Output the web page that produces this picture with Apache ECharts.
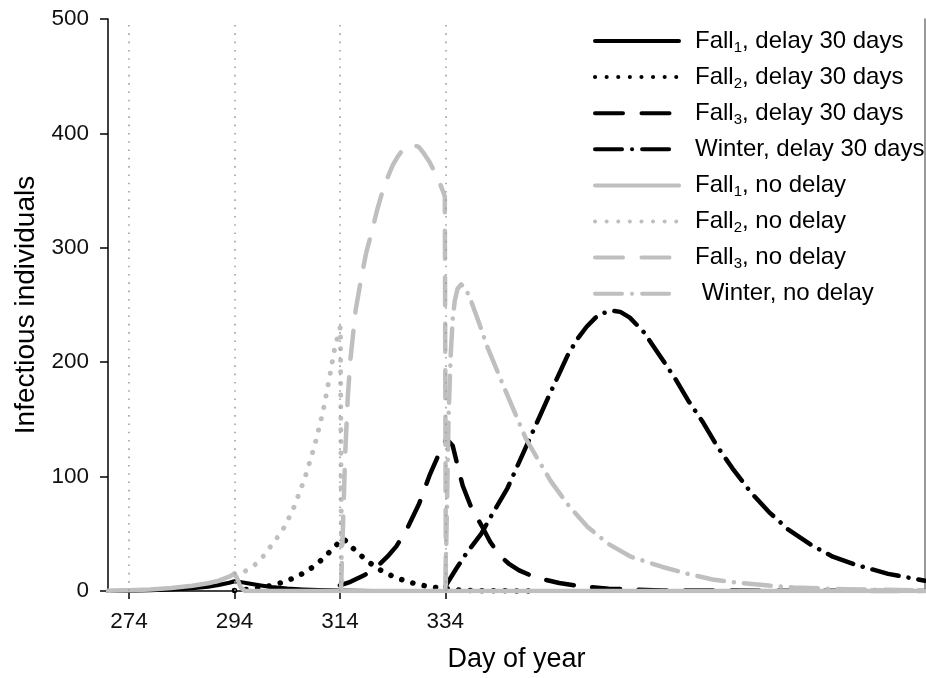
<!DOCTYPE html>
<html>
<head>
<meta charset="utf-8">
<script src="https://cdn.jsdelivr.net/npm/echarts@6/dist/echarts.min.js"></script>
<style>
  html, body { margin: 0; padding: 0; background: #fff; }
  #chart { width: 926px; height: 678px; }
</style>
</head>
<body>
<div id="chart"></div>
<script>
// day of year -> infectious individuals
const gridDays = [274, 294, 314, 334];

const fall1Delay = [[270, 0.1], [274, 0.3], [278, 0.7], [282, 1.3], [286, 2.4], [289, 3.8], [291, 5.2], [293, 7.2], [294, 8.5], [295, 8], [297, 6.3], [299, 4.8], [301, 3.5], [304, 2.2], [307, 1.4], [310, 0.8], [314, 0.4], [320, 0.1], [330, 0], [425, 0]];
const fall2Delay = [[294, 0.5], [296, 1.2], [298, 2.2], [300, 3.8], [302, 6], [304, 9], [306, 13], [308, 18], [310, 25], [312, 34], [313.5, 41], [314.6, 46], [315.5, 42], [317, 35], [319, 27], [321, 20], [323, 15], [325, 11], [327, 8], [329, 5.5], [331, 3.8], [333, 2.6], [334, 2.2], [336, 1], [340, 0.3], [350, 0]];
const fall3Delay = [[314, 5], [316, 8], [318.7, 14], [321, 21], [323, 30], [324.7, 39], [326.8, 55], [329, 76], [331, 101], [333, 122], [334.2, 133], [335.4, 127], [336.3, 110], [337.3, 92], [339, 72], [340.9, 57], [342.5, 43], [344.3, 31], [346, 24], [348, 18], [351, 12], [355.6, 7], [360, 4], [365, 2], [375, 0.5], [425, 0]];
const winterDelay = [[334, 4], [336, 19], [338, 33], [340.8, 50], [343, 68], [345.8, 90], [349.6, 129], [353.4, 168], [357.2, 206], [359, 220], [360.8, 231], [362.5, 239], [364, 243], [365.7, 245], [367.2, 244], [369, 239], [371.7, 226], [374.5, 207], [377.7, 185], [380, 167], [382.8, 148], [385.5, 127], [388.5, 107], [392, 86], [395.4, 69], [399, 54], [403.5, 40], [407.5, 30], [411.8, 23], [418, 15], [425, 9]];

const fall1NoDelay = [[270, 0.2], [274, 0.6], [278, 1.3], [282, 2.6], [286, 4.6], [289, 6.8], [291, 9], [293, 12.5], [294, 15], [294.4, 12], [295.2, 3], [296, 0], [425, 0]];
const fall2NoDelay = [[294, 15], [295.6, 16], [297.9, 23], [299.8, 32], [301.3, 42], [303, 52], [305, 70], [307.3, 98], [309.2, 127], [310.8, 157], [312, 186], [313, 212], [313.8, 226], [314.1, 231], [314.3, 0]];
const fall3NoDelay = [[314.2, 0], [314.6, 60], [315, 120], [315.5, 170], [316, 203], [317, 246], [318.1, 275], [319, 296], [320, 313], [321, 332], [322, 348], [323, 361], [324, 372], [325, 380], [326, 386], [327, 389], [328, 390], [329, 388], [330, 382], [331, 375], [332, 366], [333, 356], [333.9, 345], [334.1, 0]];
const winterNoDelay = [[334, 0], [334.3, 70], [334.6, 150], [335, 205], [335.4, 238], [335.8, 254], [336.3, 264], [337, 268], [337.8, 265], [339, 252], [340.5, 233], [342, 213], [345.5, 174], [349.3, 133], [354, 96], [357.5, 74], [361, 56], [365, 41], [369.2, 30], [375.2, 21], [380, 15], [384.7, 10], [390, 7], [394.8, 5], [400, 3], [410, 1.5], [425, 0.5]];

const seriesNames = [
  'Fall1, delay 30 days', 'Fall2, delay 30 days', 'Fall3, delay 30 days', 'Winter, delay 30 days',
  'Fall1, no delay', 'Fall2, no delay', 'Fall3, no delay', ' Winter, no delay'
];

const BLACK = '#000000';
const GREY = '#bfbfbf';
const FONT = 'Liberation Sans, Arial, sans-serif';

const dotted = [0.1, 11.5];
const dashed = [28, 18.5];
const dashDot = [27, 10, 0.1, 10];

function curve(name, data, color, width, type) {
  return {
    name,
    type: 'line',
    data,
    symbol: 'none',
    smooth: false,
    lineStyle: { color, width, type, cap: 'round', join: 'round' },
    itemStyle: { color },
    emphasis: { disabled: true }
  };
}

const series = [
  curve(seriesNames[0], fall1Delay, BLACK, 4, 'solid'),
  curve(seriesNames[1], fall2Delay, BLACK, 5.5, dotted),
  curve(seriesNames[2], fall3Delay, BLACK, 4.5, dashed),
  curve(seriesNames[3], winterDelay, BLACK, 4.5, dashDot),
  curve(seriesNames[4], fall1NoDelay, GREY, 4.5, 'solid'),
  curve(seriesNames[5], fall2NoDelay, GREY, 5, dotted),
  curve(seriesNames[6], fall3NoDelay, GREY, 4.5, dashed),
  curve(seriesNames[7], winterNoDelay, GREY, 4.5, dashDot)
];

// dotted vertical guides at the season boundaries
series[0].markLine = {
  silent: true,
  symbol: 'none',
  label: { show: false },
  lineStyle: { color: '#a0a0a0', width: 1.6, type: [1.6, 6.7] },
  data: gridDays.map((d) => ({ xAxis: d }))
};

const chart = echarts.init(document.getElementById('chart'), null, { renderer: 'canvas' });
chart.setOption({
  animation: false,
  backgroundColor: '#fff',
  textStyle: { fontFamily: FONT },
  grid: { left: 108, right: 1, top: 19, bottom: 85, containLabel: false },
  legend: {
    orient: 'vertical',
    left: 588,
    top: 22,
    itemWidth: 84,
    itemHeight: 14,
    itemGap: 8.1,
    data: seriesNames,
    selectedMode: false,
    itemStyle: { opacity: 0 },
    lineStyle: { width: 4 },
    formatter: (name) => name.replace(/^Fall(\d)/, 'Fall{s|$1}'),
    textStyle: {
      fontFamily: FONT,
      fontSize: 24,
      lineHeight: 28,
      color: '#000',
      padding: [0, 0, 0, 11],
      rich: {
        s: { fontFamily: FONT, fontSize: 15, lineHeight: 15, padding: [13, 0, 0, 0], color: '#000' }
      }
    }
  },
  xAxis: [
    {
      type: 'value',
      min: 270,
      max: 425,
      name: 'Day of year',
      nameLocation: 'middle',
      nameGap: 55,
      nameTextStyle: { fontFamily: FONT, fontSize: 27, color: '#000' },
      axisLine: { show: true, lineStyle: { color: '#000', width: 1 } },
      axisTick: { show: true, length: 8, customValues: gridDays, lineStyle: { color: '#000', width: 1.5 } },
      axisLabel: { customValues: gridDays, margin: 19, fontSize: 22.5, color: '#111', fontFamily: FONT },
      splitLine: { show: false }
    },
    {
      type: 'value',
      position: 'top',
      min: 270,
      max: 425,
      axisLine: { show: true, lineStyle: { color: '#444', width: 2 } },
      axisTick: { show: false },
      axisLabel: { show: false },
      splitLine: { show: false }
    }
  ],
  yAxis: [
    {
      type: 'value',
      min: 0,
      max: 500,
      interval: 100,
      name: 'Infectious individuals',
      nameLocation: 'middle',
      nameGap: 62,
      nameTextStyle: { fontFamily: FONT, fontSize: 28, color: '#000' },
      axisLine: { show: true, lineStyle: { color: '#000', width: 1.5 } },
      axisTick: { show: true, length: 8, lineStyle: { color: '#000', width: 1.5 } },
      axisLabel: { margin: 19, fontSize: 22.5, color: '#111', fontFamily: FONT },
      splitLine: { show: false }
    },
    {
      type: 'value',
      position: 'right',
      min: 0,
      max: 500,
      axisLine: { show: true, lineStyle: { color: '#777', width: 1.5 } },
      axisTick: { show: false },
      axisLabel: { show: false },
      splitLine: { show: false }
    }
  ],
  series
});
</script>
</body>
</html>
